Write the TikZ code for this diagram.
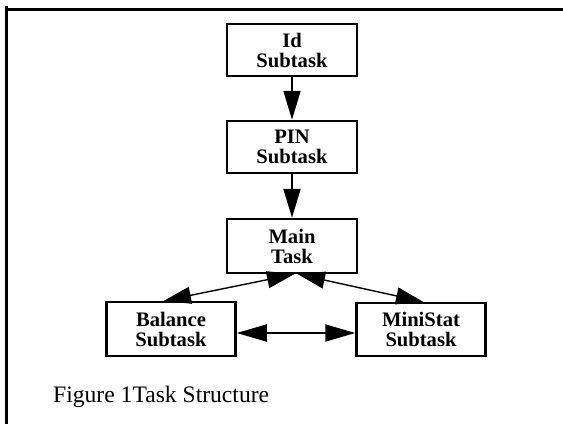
\documentclass[tikz,border=0pt]{standalone}
\usepackage{fontspec}
\setmainfont{Liberation Serif}
\usetikzlibrary{arrows.meta}
\begin{document}
\begin{tikzpicture}[x=1pt,y=-1pt,
  box/.style={draw, line width=2.5pt, minimum width=130pt, minimum height=52pt, align=center, inner sep=0pt,
    font=\fontsize{20.6}{20}\selectfont\bfseries},
  arr/.style={-{Triangle[length=29pt,width=17pt]}, line width=2pt},
  darr/.style={{Triangle[length=30pt,width=17pt]}-{Triangle[length=30pt,width=17pt]}, line width=2pt},
  dthin/.style={{Triangle[length=27pt,width=17pt]}-{Triangle[length=27pt,width=17pt]}, line width=1.4pt},
  frame/.style={line width=3pt}]
\useasboundingbox (0,0) rectangle (563,424);
\coordinate (ftop) at (6.5,6);
\coordinate (fbot) at (6.5,424);
\coordinate (tl) at (5,9.5);
\coordinate (tr) at (563,9.5);
\draw[frame] (ftop) -- (fbot);
\draw[frame] (tl) -- (tr);
\node[box] (id) at (292,50) {Id\\Subtask};
\node[box] (pin) at (292,147) {PIN\\Subtask};
\node[box, minimum height=54pt] (main) at (292,246) {Main\\Task};
\node[box, minimum width=129pt, minimum height=54pt] (bal) at (171,329) {Balance\\Subtask};
\node[box, minimum width=129pt, minimum height=53pt] (mini) at (421,329.5) {MiniStat\\Subtask};
\draw[arr] (id) -- (pin);
\draw[arr] (pin) -- (main);
\draw[dthin] ([xshift=-7pt]bal.north) -- ([xshift=2pt]main.south);
\draw[dthin] ([xshift=6pt]main.south) -- ([xshift=2pt]mini.north);
\draw[darr] ([yshift=-4pt]bal.east) -- ([yshift=-3.5pt]mini.west);
\node[anchor=base west, font=\fontsize{23.6}{28}\selectfont, inner sep=0pt] (cap) at (53,402) {Figure 1Task Structure};
\end{tikzpicture}
\end{document}
